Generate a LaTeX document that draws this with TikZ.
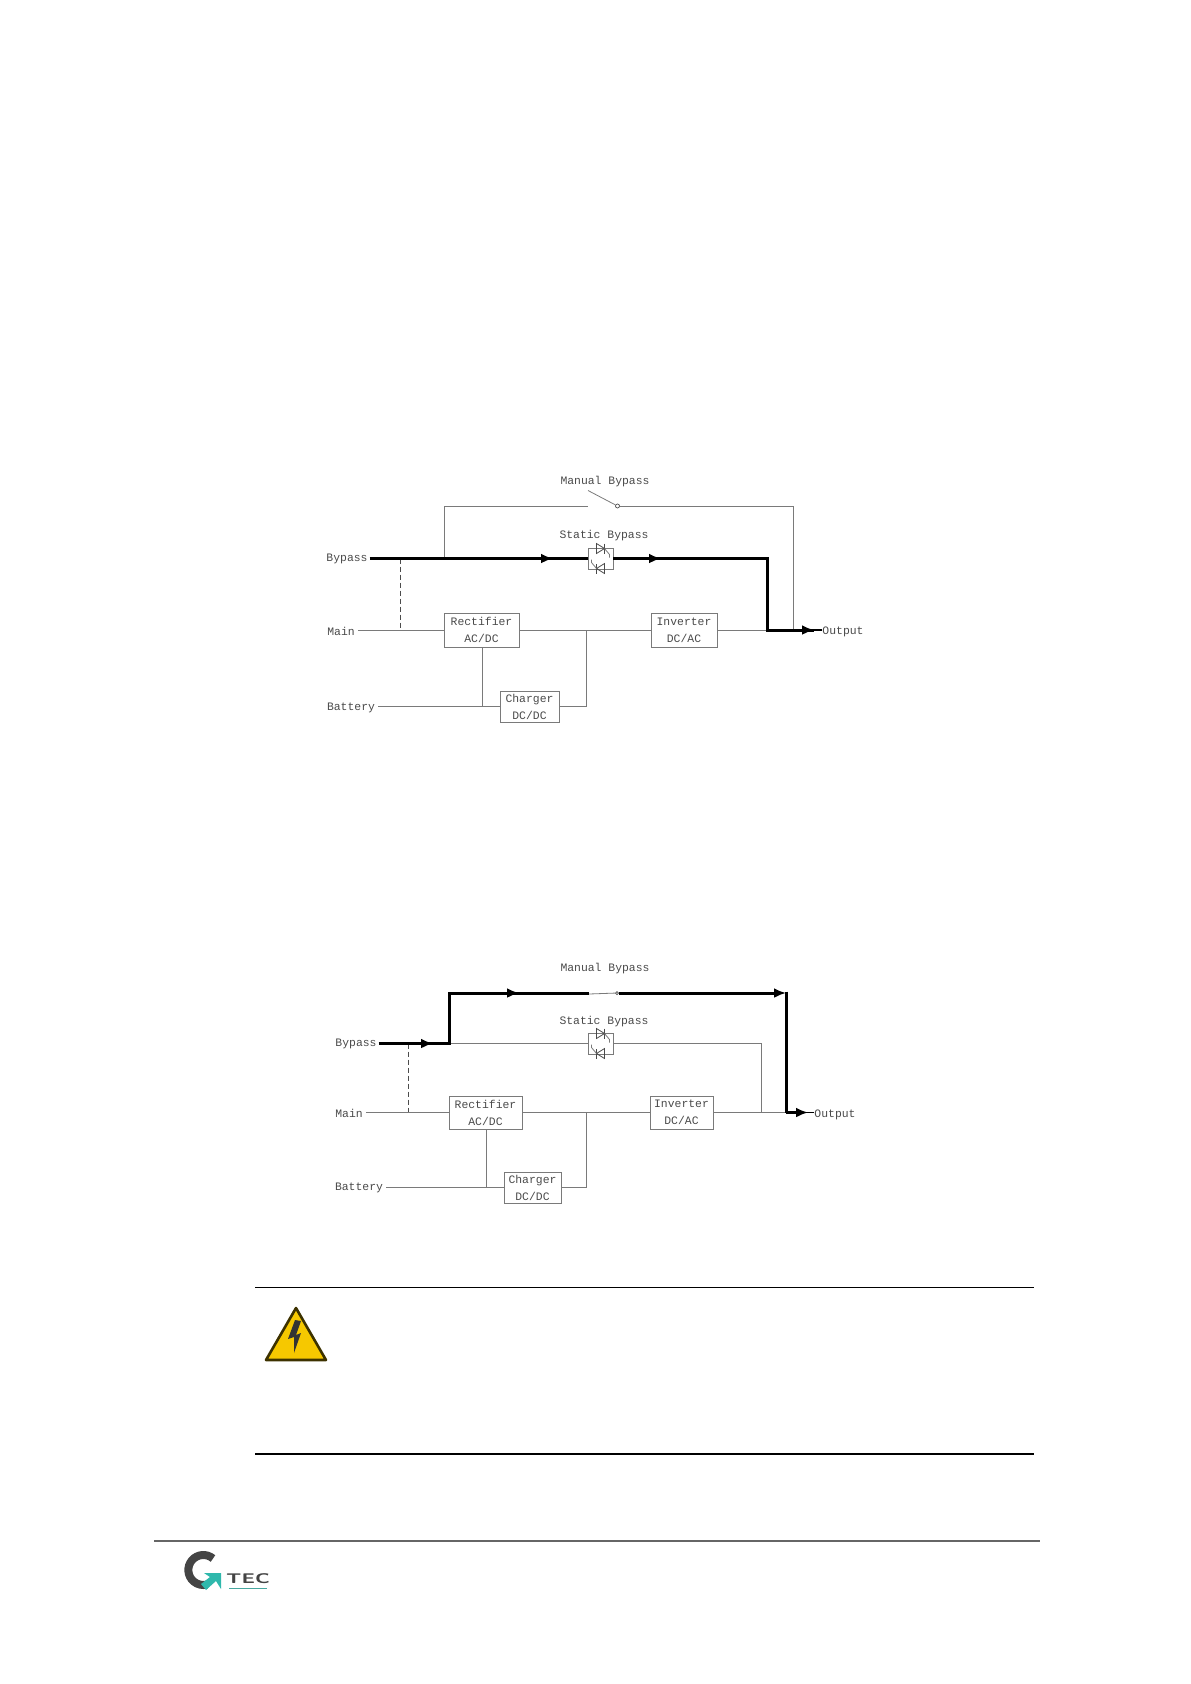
\documentclass[tikz,border=0pt]{standalone}
\usepackage{fontspec}
\setmonofont{Liberation Mono}
\usepackage{tikz}
\usetikzlibrary{arrows.meta,positioning,calc}
\definecolor{wireGray}{HTML}{7A7A7A}
\definecolor{textGray}{HTML}{4A4A4A}
\definecolor{signYellow}{HTML}{F6C800}
\definecolor{logoDark}{HTML}{444444}
\definecolor{logoTeal}{HTML}{2FB8AC}

\begin{document}
\begin{tikzpicture}[
    x=1pt, y=-1pt,
    font=\fontsize{11.4}{17}\selectfont\ttfamily,
    node distance=0mm,
    every node/.style={text=textGray},
    box/.style={draw=wireGray, line width=0.8pt, align=center, inner sep=0pt},
    tag/.style={inner sep=0pt},
    wire/.style={draw=wireGray, line width=0.8pt},
    power/.style={draw=black, line width=3pt},
    resume/.style={power, shorten <=-7pt},
    tip/.style={power, -{Latex[length=12pt,width=10pt]}},
    link/.style={draw=black!70, line width=0.7pt, dash pattern=on 5pt off 3pt},
    rule/.style={draw=black, line width=0.9pt},
    scrpair/.pic={
      \draw[draw=textGray, line width=0.8pt] (-4,-15) -- (4,-10) -- (-4,-5) -- cycle;
      \draw[draw=textGray, line width=0.8pt] (4,-15) -- (4,-5);
      \draw[wire] (4,-10) -- (9,-4) -- (9,-1);
      \draw[draw=textGray, line width=0.8pt] (4,15) -- (-4,10) -- (4,5) -- cycle;
      \draw[draw=textGray, line width=0.8pt] (-4,15) -- (-4,5);
      \draw[wire] (-4,10) -- (-9,4) -- (-9,1);
    }
]
\useasboundingbox (0,0) rectangle (1191,1684);

% upper diagram
\node[tag] (manualA) at (605,482) {Manual Bypass};
\node[tag] (staticA) at (604,536) {Static Bypass};
\node[tag] (bypassA) at (347,559) {Bypass};
\node[tag] (mainA) at (341,631) {Main};
\node[tag] (batteryA) at (351,707.5) {Battery};
\node[box, minimum width=75pt, minimum height=34pt] (rectA) at (481.5,630) {Rectifier\\AC/DC};
\node[box, minimum width=66pt, minimum height=34pt] (invA) at (684,630) {Inverter\\DC/AC};
\node[box, minimum width=59pt, minimum height=31pt] (chgA) at (529.5,706.5) {Charger\\DC/DC};
\node[draw=wireGray, line width=0.8pt, inner sep=0pt, minimum width=25pt, minimum height=21pt] (scrA) at (600.5,558.5) {};
\pic at (scrA.center) {scrpair};
\node[tag] (outA) at (843,632) {Output};
\node[draw=textGray, line width=0.7pt, circle, fill=white, inner sep=0pt, minimum size=4pt] (swA) at (617.5,506) {};

\coordinate (tapA) at (444,558.5);
\coordinate (topA) at (444,506);
\coordinate (swlA) at (588,506);
\coordinate (bladeA) at (588,490.5);
\coordinate (endA) at (793,506);
\coordinate (joinA) at (793,630);
\coordinate (dropA) at (400,558.5);
\coordinate (dashA) at (400,630);
\coordinate (arrA) at (553,558.5);
\coordinate (arrB) at (661,558.5);
\coordinate (cornerA) at (767,558.5);
\coordinate (cornerB) at (767,630);
\coordinate (arrC) at (814,630);
\coordinate (busA) at (586,630);
\coordinate (busB) at (586,706.5);
\coordinate (feedA) at (482,706.5);

\draw[wire] (tapA) -- (topA) -- (swlA);
\draw[wire] (bladeA) -- (swA);
\draw[wire] (swA) -- (endA) -- (joinA);
\draw[link] (dropA) -- (dashA);
\draw[wire] (mainA.east |- rectA.west) ++(3,0) -- (rectA.west);
\draw[wire] (rectA.east) -- (invA.west);
\draw[wire] (invA.east) -- (cornerB);
\draw[wire] (busA) -- (busB) -- (chgA.east);
\draw[wire] (rectA.south -| feedA) -- (feedA);
\draw[wire] (batteryA.east |- chgA.west) ++(3,0) -- (chgA.west);
\draw[tip] (bypassA.east |- tapA) ++(2,0) -- (arrA);
\draw[resume] (arrA) -- (scrA.west);
\draw[tip] (scrA.east) -- (arrB);
\draw[resume, line join=miter] (arrB) -- (cornerA) -- (cornerB) -- (arrC);
\draw[tip] (cornerB) -- (arrC);
\draw[draw=black, line width=1.6pt, shorten <=-4pt] (arrC) -- (arrC -| outA.west);

% lower diagram
\node[tag] (manualB) at (605,969) {Manual Bypass};
\node[tag] (staticB) at (604,1022) {Static Bypass};
\node[tag] (bypassB) at (356,1044) {Bypass};
\node[tag] (mainB) at (349,1113) {Main};
\node[tag] (batteryB) at (359,1188) {Battery};
\node[box, minimum width=73pt, minimum height=33pt] (rectB) at (485.5,1112.5) {Rectifier\\AC/DC};
\node[box, minimum width=63pt, minimum height=33pt] (invB) at (681.5,1112.5) {Inverter\\DC/AC};
\node[box, minimum width=57pt, minimum height=31pt] (chgB) at (532.5,1187.5) {Charger\\DC/DC};
\node[draw=wireGray, line width=0.8pt, inner sep=0pt, minimum width=25pt, minimum height=21pt] (scrB) at (600.5,1043.5) {};
\pic at (scrB.center) {scrpair};
\node[tag] (outB) at (835,1115) {Output};
\node[draw=textGray, line width=0.7pt, circle, fill=white, inner sep=0pt, minimum size=3pt] (swB) at (617,993) {};

\coordinate (tapB) at (449,1043.5);
\coordinate (topB) at (449,993);
\coordinate (swlB) at (589,994);
\coordinate (arrD) at (433,1043.5);
\coordinate (arrE) at (519,993);
\coordinate (arrF) at (786,993);
\coordinate (dropB) at (408,1043.5);
\coordinate (dashB) at (408,1113);
\coordinate (endB) at (761,1043.5);
\coordinate (joinB) at (761,1112.5);
\coordinate (cornerC) at (786,1112.5);
\coordinate (arrG) at (808,1112.5);
\coordinate (busC) at (586,1112.5);
\coordinate (busD) at (586,1187.5);
\coordinate (feedB) at (486,1187.5);

\draw[wire] (tapB) -- (scrB.west);
\draw[wire] (scrB.east) -- (endB) -- (joinB);
\draw[link] (dropB) -- (dashB);
\draw[wire] (mainB.east |- rectB.west) ++(3,0) -- (rectB.west);
\draw[wire] (rectB.east) -- (invB.west);
\draw[wire] (invB.east) -- (cornerC);
\draw[wire] (busC) -- (busD) -- (chgB.east);
\draw[wire] (rectB.south -| feedB) -- (feedB);
\draw[wire] (batteryB.east |- chgB.west) ++(3,0) -- (chgB.west);
\draw[wire] (swlB) -- (swB);
\draw[tip] (bypassB.east |- tapB) ++(2,0) -- (arrD);
\draw[resume] (arrD) -- (tapB) -- (topB) -- (arrE);
\draw[tip] (topB) -- (arrE);
\draw[resume] (arrE) -- (swlB |- topB);
\draw[tip] (swB) -- (arrF);
\draw[power, shorten <=-1.5pt] (arrF) -- (cornerC);
\draw[tip] (cornerC) -- (arrG);
\draw[draw=black, line width=1.6pt, shorten <=-4pt] (arrG) -- (arrG -| outB.west);

% warning block
\coordinate (ruleAL) at (255,1287);
\coordinate (ruleAR) at (1034,1287);
\coordinate (ruleBL) at (255,1454);
\coordinate (ruleBR) at (1034,1454);
\draw[rule] (ruleAL) -- (ruleAR);
\draw[rule, line width=1.2pt] (ruleBL) -- (ruleBR);
\draw[draw=black!75!signYellow, fill=signYellow, line width=2.6pt, line join=round] (296,1308) -- (326,1360) -- (266,1360) -- cycle;
\fill[black!80] (295,1320) -- (288,1339) -- (294,1337) -- (294,1353) -- (301,1333) -- (296,1335) -- (301,1321) -- cycle;

% footer
\coordinate (footL) at (154,1541);
\coordinate (footR) at (1040,1541);
\draw[draw=black!60, line width=1.2pt] (footL) -- (footR);
\draw[draw=logoDark, line width=8pt] (213,1558.5) arc[start angle=-50, end angle=-285, radius=15];
\fill[logoTeal] (221,1573) -- (221,1589) -- (216,1581) -- (206,1590) -- (201,1584) -- (210,1577) -- (204,1573) -- cycle;
\node[tag, font=\fontsize{14}{14}\selectfont\sffamily\bfseries, text=logoDark, xscale=1.5] (tecB) at (248,1579) {TEC};
\draw[draw=logoTeal!70!gray, line width=1.5pt] (229,1588.5) -- (267,1588.5);
\end{tikzpicture}
\end{document}
